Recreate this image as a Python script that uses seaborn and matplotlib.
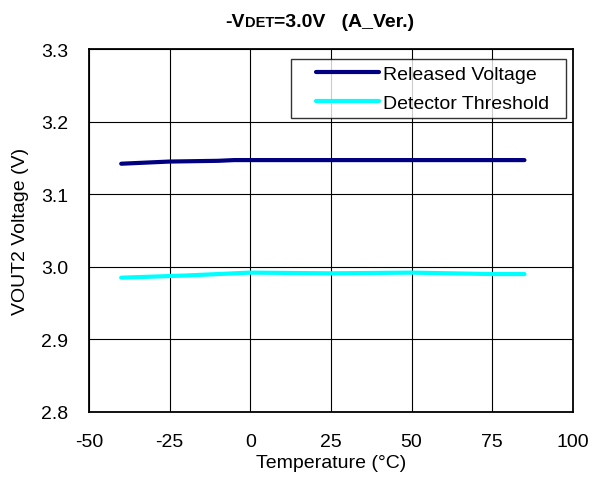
import matplotlib
matplotlib.use("Agg")
import matplotlib.pyplot as plt
from matplotlib.lines import Line2D
from matplotlib.legend_handler import HandlerLine2D
import seaborn as sns
import pandas as pd

temp_released = [-40, -25, -10, -5, 0, 25, 50, 75, 85]
released = [3.142, 3.145, 3.146, 3.147, 3.147, 3.147, 3.147, 3.147, 3.147]
temp_detector = [-40, -20, 0, 25, 50, 75, 85]
detector = [2.985, 2.988, 2.992, 2.991, 2.992, 2.990, 2.990]
series_names = ["Released Voltage", "Detector Threshold"]
colors = ["#000080", "#00FFFF"]
xticks = [-50, -25, 0, 25, 50, 75, 100]
yticks = [2.8, 2.9, 3.0, 3.1, 3.2, 3.3]

df = pd.concat([
    pd.DataFrame({"Temperature": temp_released, "Voltage": released, "Series": series_names[0]}),
    pd.DataFrame({"Temperature": temp_detector, "Voltage": detector, "Series": series_names[1]}),
])

sns.set_style("white")
plt.rcParams['font.family'] = ['Liberation Sans', 'DejaVu Sans']
for k in ["text.color", "axes.labelcolor", "xtick.color", "ytick.color"]:
    plt.rcParams[k] = "black"

FS = 14

fig = plt.figure(figsize=(5.93, 4.81), dpi=100)
ax = fig.add_axes([0.150, 0.1414, 0.816, 0.7546])

sns.lineplot(data=df, x="Temperature", y="Voltage", hue="Series",
             palette=dict(zip(series_names, colors)), linewidth=3.0,
             ax=ax, sort=False, legend=False)

ax.set_xlim(-50, 100)
ax.set_ylim(2.8, 3.3)
ax.set_xticks(xticks)
ax.set_yticks(yticks)
ax.set_xticklabels([str(t) for t in xticks], fontsize=FS)
ax.set_yticklabels([f"{t:.1f}" for t in yticks], fontsize=FS)
ax.grid(True, color="black", linewidth=0.8)
for s in ax.spines.values():
    s.set_color("black")
    s.set_linewidth(1.3)
ax.tick_params(axis="x", length=0, pad=15)
ax.tick_params(axis="y", length=0, pad=15)
ax.set_xlabel("Temperature (°C)", fontsize=FS)
ax.set_ylabel("VOUT2 Voltage (V)", fontsize=FS)
ax.xaxis.set_label_coords(0.5, -0.116)
ax.yaxis.set_label_coords(-0.124, 0.5)

handles = [Line2D([0], [0], color=c, linewidth=3.0) for c in colors]
labels = [n + "\u00a0\u00a0" for n in series_names]
leg = ax.legend(handles, labels, loc="upper right", bbox_to_anchor=(0.985, 0.972),
                fontsize=FS, frameon=True, fancybox=False, handlelength=4.2,
                borderpad=0.3, labelspacing=0.6, handletextpad=0.2, borderaxespad=0,
                handler_map={Line2D: HandlerLine2D(xpad=0.95)})
leg.get_frame().set_edgecolor("black")
leg.get_frame().set_linewidth(1.0)

# title with small-caps "DET" on the same baseline
fig.canvas.draw()
renderer = fig.canvas.get_renderer()
x0, ybase = 0.380, 0.9445
parts = [("-V", 14), ("DET", 10.5), ("=3.0V   (A_Ver.)", 14)]
x = x0
for txt, size in parts:
    t = fig.text(x, ybase, txt, fontsize=size, fontweight="bold", ha="left", va="baseline")
    bb = t.get_window_extent(renderer=renderer)
    x += bb.width / fig.bbox.width

fig.savefig("out.png", dpi=100, facecolor="white")
